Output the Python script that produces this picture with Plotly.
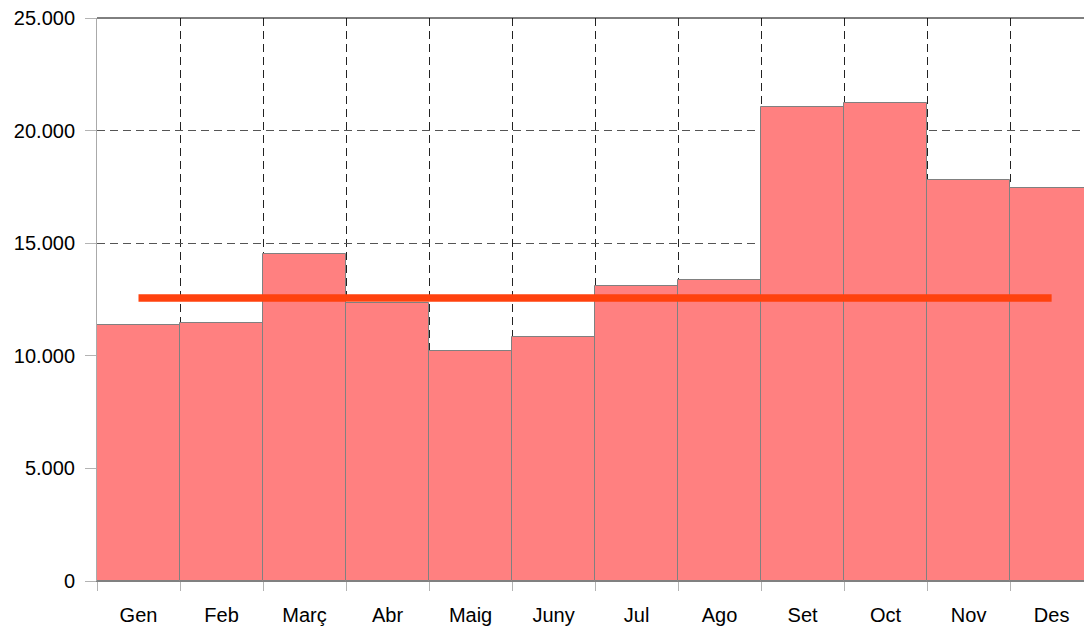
import plotly.graph_objects as go

months = ["Gen", "Feb", "Març", "Abr", "Maig", "Juny", "Jul", "Ago", "Set", "Oct", "Nov", "Des"]
values = [11350, 11440, 14510, 12340, 10200, 10820, 13110, 13370, 21050, 21210, 17790, 17440]
target_value = 12570
y_ticks = [0, 5000, 10000, 15000, 20000, 25000]

FONT = "Liberation Sans, Arial, sans-serif"

fig = go.Figure()
fig.add_trace(go.Bar(
    x=months, y=values,
    marker=dict(color="#FF8080", line=dict(color="#808080", width=1)),
    showlegend=False, hoverinfo="x+y",
))
fig.add_trace(go.Scatter(
    x=[months[0], months[-1]], y=[target_value, target_value],
    mode="lines", line=dict(color="#FF420E", width=7.5),
    showlegend=False,
))

fig.update_layout(
    width=1084, height=626,
    margin=dict(l=97, r=0, t=18, b=45),
    paper_bgcolor="white", plot_bgcolor="white",
    bargap=0,
    separators=",.",
    font=dict(family=FONT, size=20, color="black"),
    showlegend=False,
    xaxis=dict(
        type="category",
        range=[-0.5, 11.39],
        tickson="boundaries",
        ticks="outside", ticklen=9, tickcolor="#b3b3b3", tickwidth=1,
        showgrid=True, gridcolor="#222222", griddash="8px,5px", gridwidth=1,
        showline=True, linecolor="#808080", linewidth=1,
        ticklabelstandoff=16,
        tickfont=dict(family=FONT, size=20, color="black"),
    ),
    yaxis=dict(
        range=[0, 25000],
        tickvals=y_ticks,
        tickformat=",d",
        ticks="outside", ticklen=11, tickcolor="#b3b3b3", tickwidth=1,
        showgrid=True, gridcolor="#555555", griddash="8px,5px", gridwidth=1,
        showline=True, linecolor="#aaaaaa", linewidth=1,
        zeroline=False,
        ticklabelstandoff=6,
        tickfont=dict(family=FONT, size=20, color="black"),
    ),
    shapes=[dict(type="line", xref="paper", yref="paper", x0=0, x1=1, y0=1, y1=1,
                 line=dict(color="black", width=1))],
)

fig.write_html(
    "out.html",
    config={"displayModeBar": False},
    post_script="document.body.style.margin='0';document.body.style.overflow='hidden';",
)
